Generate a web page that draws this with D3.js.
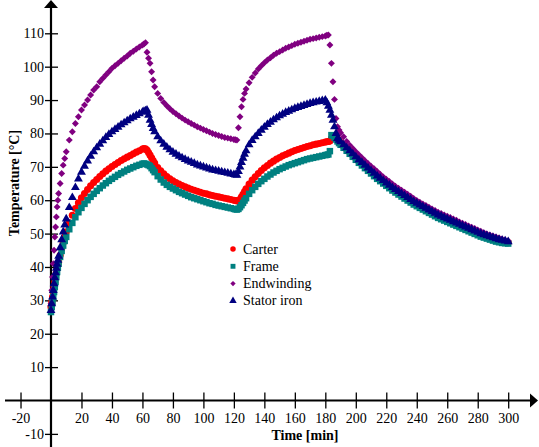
<!DOCTYPE html>
<html>
<head>
<meta charset="utf-8">
<script src="https://cdn.jsdelivr.net/npm/d3@7"></script>
<style>
  body { margin: 0; background: #fff; }
  svg { font-family: "Liberation Serif", "Times New Roman", serif; }
</style>
</head>
<body>
<div id="chart"></div>
<script>
// time in minutes (denser where the temperatures jump)
const time = [
  0, 0.5, 1, 1.5, 2, 2.5, 3, 3.5, 4, 4.5, 5, 6, 7, 8, 9, 10,
  12, 14, 16, 18, 20, 22, 24, 26, 28, 30, 32, 34, 36, 38, 40, 42, 44, 46, 48, 50, 52, 54, 56, 58, 60,
  61, 62, 63, 64, 65, 66, 67, 68,
  70, 72, 74, 76, 78, 80, 82, 84, 86, 88, 90, 92, 94, 96, 98, 100, 102, 104, 106, 108, 110, 112, 114, 116, 118, 120,
  121, 122, 123, 124, 125, 126, 127, 128,
  130, 132, 134, 136, 138, 140, 142, 144, 146, 148, 150, 152, 154, 156, 158, 160, 162, 164, 166, 168, 170, 172, 174, 176, 178, 180,
  181, 182, 183, 184, 185, 186, 187, 188, 189, 190,
  192, 194, 196, 198, 200, 202, 204, 206, 208, 210, 212, 214, 216, 218, 220, 222, 224, 226, 228, 230, 232, 234, 236, 238, 240,
  242, 244, 246, 248, 250, 252, 254, 256, 258, 260, 262, 264, 266, 268, 270, 272, 274, 276, 278, 280, 282, 284, 286, 288, 290,
  292, 294, 296, 298, 300
];

const carter = [
  28, 29.5, 31, 32.5, 34, 35.5, 37, 38.2, 39.4, 40.5, 41.5, 43.5, 45.5, 47.3, 49, 50.5,
  53.2, 55.5, 57.5, 59.2, 60.7, 62, 63.2, 64.3, 65.3, 66.2, 67.1, 67.9, 68.7, 69.4, 70.1, 70.7, 71.3, 71.9, 72.4, 72.9, 73.4, 73.9, 74.4, 74.8, 75.3,
  75.5, 75.4, 75, 74.3, 73.5, 72.7, 71.9, 71.1,
  69.8, 68.8, 67.9, 67.1, 66.4, 65.8, 65.3, 64.8, 64.4, 64, 63.6, 63.3, 63, 62.7, 62.4, 62.1, 61.9, 61.6, 61.4, 61.2, 61, 60.8, 60.6, 60.4, 60.2, 60,
  59.9, 59.8, 59.9, 60.3, 61, 61.8, 62.6, 63.4,
  64.8, 66, 67, 68, 68.9, 69.7, 70.4, 71.1, 71.7, 72.3, 72.8, 73.3, 73.7, 74.1, 74.5, 74.9, 75.2, 75.5, 75.8, 76.1, 76.3, 76.6, 76.8, 77, 77.2, 77.4,
  77.5, 77.6, 77.7, 78.5, 79, 79.2, 79, 78.4, 77.8, 77.3,
  76.2, 75.3, 74.4, 73.5, 72.6, 71.7, 70.9, 70.1, 69.3, 68.5, 67.7, 66.9, 66.2, 65.5, 64.8, 64.1, 63.4, 62.8, 62.2, 61.6, 61, 60.4, 59.8, 59.2, 58.7,
  58.2, 57.7, 57.2, 56.7, 56.2, 55.7, 55.2, 54.8, 54.4, 54, 53.6, 53.2, 52.8, 52.4, 52, 51.6, 51.2, 50.8, 50.4, 50, 49.6, 49.3, 49, 48.7, 48.4,
  48.1, 47.8, 47.6, 47.4, 47.3
];

const frame = [
  26.5, 28, 29.5, 31, 32.5, 34, 35.5, 37, 38.5, 39.8, 41, 43, 44.8, 46.4, 47.8, 49,
  51.3, 53.2, 54.9, 56.4, 57.7, 58.9, 60, 61, 61.9, 62.8, 63.6, 64.4, 65.1, 65.8, 66.4, 67, 67.6, 68.1, 68.6, 69.1, 69.5, 69.9, 70.3, 70.6, 70.9,
  71, 70.9, 70.7, 70.5, 70.2, 69.6, 69, 68.4,
  67.2, 66.2, 65.3, 64.6, 64, 63.5, 63, 62.5, 62.1, 61.7, 61.3, 60.9, 60.6, 60.3, 60, 59.7, 59.4, 59.1, 58.9, 58.6, 58.4, 58.2, 58, 57.8, 57.6, 57.4,
  57.3, 57.2, 57.4, 57.9, 58.5, 59.2, 59.9, 60.6,
  61.9, 63, 64, 64.9, 65.7, 66.4, 67.1, 67.7, 68.3, 68.8, 69.3, 69.7, 70.1, 70.5, 70.8, 71.1, 71.4, 71.7, 72, 72.3, 72.5, 72.7, 72.9, 73.1, 73.3, 73.5,
  73.6, 73.7, 74.7, 79.5, 79.3, 78.8, 78.2, 77.6, 77.1, 76.6,
  75.7, 74.8, 73.9, 73, 72.1, 71.2, 70.4, 69.6, 68.8, 68, 67.2, 66.4, 65.7, 65, 64.3, 63.6, 62.9, 62.3, 61.7, 61.1, 60.5, 59.9, 59.3, 58.7, 58.2,
  57.7, 57.2, 56.7, 56.2, 55.7, 55.2, 54.7, 54.3, 53.9, 53.5, 53.1, 52.7, 52.3, 51.9, 51.5, 51.1, 50.7, 50.3, 49.9, 49.5, 49.1, 48.8, 48.5, 48.2, 47.9,
  47.6, 47.4, 47.2, 47.1, 47
];

const endwinding = [
  29, 33, 37, 41, 45, 49, 52, 55, 58, 60, 62, 65, 68, 70.5, 72.5, 74.5,
  78, 80.5, 83, 85, 87, 88.5, 90, 91.5, 93, 94, 95.5, 96.5, 97.5, 98.5, 99.5, 100.3, 101, 101.8, 102.5, 103.2, 104, 104.6, 105.3, 105.9, 106.5,
  106.8, 107.2, 104.3, 102.5, 101, 98.5, 96, 94,
  92, 90.5, 89.3, 88.3, 87.4, 86.6, 85.9, 85.2, 84.6, 84, 83.5, 83, 82.5, 82, 81.6, 81.2, 80.8, 80.4, 80, 79.7, 79.4, 79.1, 78.8, 78.6, 78.4, 78.2,
  78.1, 78, 81.7, 85, 88, 90.2, 92, 93.3,
  95.2, 96.8, 98.1, 99.3, 100.3, 101.2, 102, 102.7, 103.4, 104, 104.5, 105, 105.5, 105.9, 106.3, 106.7, 107, 107.3, 107.6, 107.9, 108.2, 108.4, 108.6, 108.8, 109, 109.2,
  109.4, 109.5, 106.5, 101, 95.5, 90.2, 84.5, 82, 81, 80.2,
  79, 77.6, 76.5, 75.5, 74.5, 73.6, 72.7, 71.8, 71, 70.2, 69.4, 68.6, 67.8, 67, 66.3, 65.6, 64.9, 64.2, 63.6, 63, 62.4, 61.8, 61.2, 60.5, 59.9,
  59.4, 58.9, 58.4, 57.9, 57.4, 56.9, 56.4, 56, 55.6, 55.2, 54.8, 54.4, 54, 53.5, 53.1, 52.7, 52.3, 51.9, 51.5, 51.1, 50.7, 50.3, 49.9, 49.6, 49.3,
  49, 48.7, 48.4, 48.1, 47.8
];

const statorIron = [
  27, 29, 31, 33, 35, 36.8, 38.3, 39.6, 40.8, 42, 43.2, 45.8, 48.2, 50.5, 52.6, 54.4,
  57.8, 60.8, 63.8, 66.4, 68.4, 70.2, 71.8, 73.2, 74.5, 75.7, 76.8, 77.8, 78.8, 79.7, 80.5, 81.2, 81.9, 82.6, 83.2, 83.8, 84.4, 84.9, 85.4, 85.9, 86.4,
  86.6, 86.8, 87, 85.5, 84, 82.7, 81.5, 80.5,
  79, 77.8, 76.8, 75.9, 75.1, 74.4, 73.8, 73.2, 72.7, 72.2, 71.8, 71.4, 71, 70.6, 70.3, 70, 69.7, 69.4, 69.1, 68.9, 68.7, 68.5, 68.3, 68.1, 67.9, 67.7,
  67.6, 67.5, 68.6, 70, 71.3, 72.6, 73.8, 74.8,
  76.6, 77.9, 79, 80, 81, 81.9, 82.7, 83.4, 84.1, 84.7, 85.3, 85.8, 86.3, 86.7, 87.1, 87.5, 87.8, 88.1, 88.4, 88.7, 89, 89.2, 89.4, 89.6, 89.8, 90,
  89.2, 88.2, 87, 85.5, 84, 82, 80, 78.5, 78, 77.5,
  76.6, 75.7, 74.8, 73.9, 73, 72.1, 71.3, 70.5, 69.7, 68.9, 68.1, 67.3, 66.6, 65.9, 65.2, 64.5, 63.8, 63.2, 62.6, 62, 61.4, 60.8, 60.2, 59.6, 59.1,
  58.6, 58.1, 57.6, 57.1, 56.6, 56.1, 55.6, 55.2, 54.8, 54.4, 54, 53.6, 53.2, 52.8, 52.4, 52, 51.6, 51.2, 50.8, 50.4, 50, 49.7, 49.4, 49.1, 48.8,
  48.5, 48.2, 48, 47.8, 47.6
];

const xTicks = [-20, 20, 40, 60, 80, 100, 120, 140, 160, 180, 200, 220, 240, 260, 280, 300];
const yTicks = [-10, 10, 20, 30, 40, 50, 60, 70, 80, 90, 100, 110];

// rotate: diamonds are squares turned by 45 degrees
const series = [
  { name: "Carter", values: carter, color: "#ff0000", symbol: d3.symbolCircle, size: 40, rotate: 0 },
  { name: "Frame", values: frame, color: "#008080", symbol: d3.symbolSquare, size: 42, rotate: 0 },
  { name: "Endwinding", values: endwinding, color: "#800080", symbol: d3.symbolSquare, size: 24, rotate: 45 },
  { name: "Stator iron", values: statorIron, color: "#000080", symbol: d3.symbolTriangle, size: 34, rotate: 0 }
];

const width = 539, height = 447;

const svg = d3.select("#chart")
  .append("svg")
  .attr("width", width)
  .attr("height", height);

const x = d3.scaleLinear().domain([0, 300]).range([51, 508.2]);
const y = d3.scaleLinear().domain([0, 110]).range([400.5, 33.3]);

// axes through the origin
const xAxis = svg.append("g")
  .attr("transform", `translate(0,${y(0)})`)
  .call(d3.axisBottom(x).tickValues(xTicks).tickFormat(d => String(d)).tickSize(0).tickPadding(13));
xAxis.select(".domain").remove();
xAxis.selectAll(".tick line").attr("y1", -8).attr("y2", 8).attr("stroke", "#000").attr("stroke-width", 1.3);
xAxis.selectAll(".tick text")
  .attr("font-family", "Liberation Serif, serif")
  .attr("font-size", 14)
  .attr("fill", "#000");

const yAxis = svg.append("g")
  .attr("transform", `translate(${x(0)},0)`)
  .call(d3.axisLeft(y).tickValues(yTicks).tickFormat(d => String(d)).tickSize(0).tickPadding(7));
yAxis.select(".domain").remove();
yAxis.selectAll(".tick line").attr("x1", -6).attr("x2", 7).attr("stroke", "#000").attr("stroke-width", 1.3);
yAxis.selectAll(".tick text")
  .attr("font-family", "Liberation Serif, serif")
  .attr("font-size", 14)
  .attr("fill", "#000");

svg.append("line")
  .attr("x1", 5).attr("x2", 532)
  .attr("y1", y(0)).attr("y2", y(0))
  .attr("stroke", "#000").attr("stroke-width", 2.2);
svg.append("path")
  .attr("d", `M538,${y(0)} L530,${y(0) - 7} L530,${y(0) + 7} Z`)
  .attr("fill", "#000");

svg.append("line")
  .attr("x1", x(0)).attr("x2", x(0))
  .attr("y1", 8).attr("y2", height)
  .attr("stroke", "#000").attr("stroke-width", 2.2);
svg.append("path")
  .attr("d", `M${x(0)},0 L${x(0) - 7},8 L${x(0) + 7},8 Z`)
  .attr("fill", "#000");

// axis titles
svg.append("text")
  .attr("x", 305).attr("y", 440)
  .attr("text-anchor", "middle")
  .attr("font-size", 14).attr("font-weight", "bold")
  .text("Time [min]");

svg.append("text")
  .attr("transform", "translate(19,183) rotate(-90)")
  .attr("text-anchor", "middle")
  .attr("font-size", 14).attr("font-weight", "bold")
  .text("Temperature [°C]");

// data points
series.forEach(s => {
  svg.append("g")
    .selectAll("path")
    .data(time.map((t, i) => ({ t: t, v: s.values[i] })))
    .join("path")
      .attr("d", d3.symbol().type(s.symbol).size(s.size))
      .attr("transform", d => `translate(${x(d.t)},${y(d.v)}) rotate(${s.rotate})`)
      .attr("fill", s.color);
});

// legend
const legend = svg.append("g").attr("transform", "translate(233,249)");
series.forEach((s, i) => {
  const row = legend.append("g").attr("transform", `translate(0,${i * 17.3})`);
  row.append("path")
    .attr("d", d3.symbol().type(s.symbol).size(s.rotate ? 14 : 24))
    .attr("transform", `rotate(${s.rotate})`)
    .attr("fill", s.color);
  row.append("text")
    .attr("x", 10).attr("y", 4.5)
    .attr("font-size", 14)
    .text(s.name);
});
</script>
</body>
</html>
